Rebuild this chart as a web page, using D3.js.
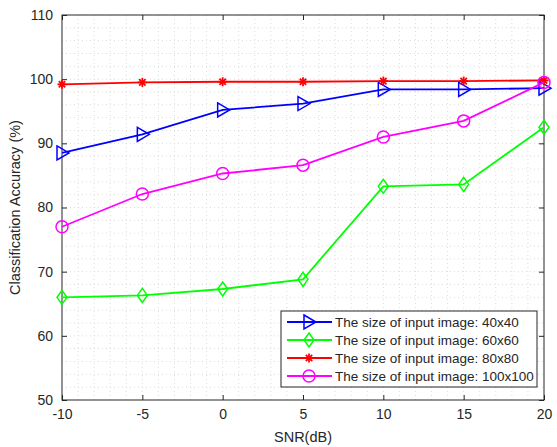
<!DOCTYPE html>
<html>
<head>
<meta charset="utf-8">
<script src="https://cdn.jsdelivr.net/npm/d3@7"></script>
<style>
  body { margin: 0; background: #fff; }
  text { font-family: "Liberation Sans", Arial, sans-serif; fill: #262626; }
</style>
</head>
<body>
<div id="chart"></div>
<script>
var W = 557, H = 447;
var margin = {top: 15, right: 13, bottom: 47, left: 62};

var snr = [-10, -5, 0, 5, 10, 15, 20];
var acc40 = [88.5, 91.4, 95.2, 96.2, 98.4, 98.4, 98.6];
var acc60 = [66.0, 66.3, 67.3, 68.8, 83.3, 83.6, 92.5];
var acc80 = [99.2, 99.5, 99.6, 99.6, 99.7, 99.7, 99.8];
var acc100 = [77.0, 82.1, 85.3, 86.6, 91.0, 93.5, 99.5];
var xTicks = [-10, -5, 0, 5, 10, 15, 20];
var yTicks = [50, 60, 70, 80, 90, 100, 110];

var series = [
  {name: 'The size of input image: 40x40', values: acc40, color: '#0000ff', marker: 'tri'},
  {name: 'The size of input image: 60x60', values: acc60, color: '#00ff00', marker: 'diamond'},
  {name: 'The size of input image: 80x80', values: acc80, color: '#ff0000', marker: 'star'},
  {name: 'The size of input image: 100x100', values: acc100, color: '#ff00ff', marker: 'circle'}
];

var svg = d3.select('#chart').append('svg')
  .attr('width', W)
  .attr('height', H);

var pw = W - margin.left - margin.right;
var ph = H - margin.top - margin.bottom;

var x = d3.scaleLinear().domain([-10, 20]).range([0, pw]);
var y = d3.scaleLinear().domain([50, 110]).range([ph, 0]);

var g = svg.append('g').attr('transform', 'translate(' + margin.left + ',' + margin.top + ')');

// minor + major dotted grid
var xGrid = d3.range(-9, 20, 1);
var yGrid = d3.range(52, 110, 2);
g.selectAll('.gx').data(xGrid).enter().append('line')
  .attr('x1', function(d) { return x(d); })
  .attr('x2', function(d) { return x(d); })
  .attr('y1', 0).attr('y2', ph)
  .attr('stroke', '#dcdcdc')
  .attr('stroke-width', 1)
  .attr('stroke-dasharray', '1,3');
g.selectAll('.gy').data(yGrid).enter().append('line')
  .attr('y1', function(d) { return y(d); })
  .attr('y2', function(d) { return y(d); })
  .attr('x1', 0).attr('x2', pw)
  .attr('stroke', '#dcdcdc')
  .attr('stroke-width', 1)
  .attr('stroke-dasharray', '1,3');

// axes (ticks inward)
var fmt = function(d) { return String(d); };
var xAxis = d3.axisBottom(x).tickValues(xTicks).tickSize(-5).tickPadding(9).tickFormat(fmt);
var yAxis = d3.axisLeft(y).tickValues(yTicks).tickSize(-5).tickPadding(9).tickFormat(fmt);
var gx = g.append('g').attr('transform', 'translate(0,' + ph + ')').call(xAxis);
var gy = g.append('g').call(yAxis);
[gx, gy].forEach(function(a) {
  a.select('.domain').remove();
  a.selectAll('.tick line').attr('stroke', '#262626');
  a.selectAll('.tick text').style('font-size', '14px').attr('fill', '#262626');
});
g.append('g').call(d3.axisTop(x).tickValues(xTicks).tickSize(-5).tickFormat(''))
  .call(function(a) { a.select('.domain').remove(); a.selectAll('line').attr('stroke', '#262626'); });
g.append('g').attr('transform', 'translate(' + pw + ',0)')
  .call(d3.axisRight(y).tickValues(yTicks).tickSize(-5).tickFormat(''))
  .call(function(a) { a.select('.domain').remove(); a.selectAll('line').attr('stroke', '#262626'); });

g.append('rect')
  .attr('x', 0).attr('y', 0).attr('width', pw).attr('height', ph)
  .attr('fill', 'none').attr('stroke', '#262626').attr('stroke-width', 1);

// labels
svg.append('text')
  .attr('x', margin.left + pw / 2).attr('y', H - 5)
  .attr('text-anchor', 'middle')
  .style('font-size', '14.5px')
  .text('SNR(dB)');
svg.append('text')
  .attr('transform', 'translate(20,' + (margin.top + ph / 2) + ') rotate(-90)')
  .attr('text-anchor', 'middle')
  .style('font-size', '14.5px')
  .text('Classification Accuracy (%)');

function drawMarker(sel, type, color, cx, cy) {
  if (type == 'tri') {
    sel.append('path')
      .attr('d', 'M' + (cx - 5) + ',' + (cy - 7) + 'L' + (cx + 7) + ',' + cy + 'L' + (cx - 5) + ',' + (cy + 7) + 'Z')
      .attr('fill', 'none').attr('stroke', color).attr('stroke-width', 1.5);
  } else if (type == 'diamond') {
    sel.append('path')
      .attr('d', 'M' + cx + ',' + (cy - 7) + 'L' + (cx + 5) + ',' + cy + 'L' + cx + ',' + (cy + 7) + 'L' + (cx - 5) + ',' + cy + 'Z')
      .attr('fill', 'none').attr('stroke', color).attr('stroke-width', 1.5);
  } else if (type == 'circle') {
    sel.append('circle')
      .attr('cx', cx).attr('cy', cy).attr('r', 6)
      .attr('fill', 'none').attr('stroke', color).attr('stroke-width', 1.5);
  } else {
    var r = 4.5;
    for (var k = 0; k < 4; k++) {
      var a = k * Math.PI / 4;
      sel.append('line')
        .attr('x1', cx - r * Math.cos(a)).attr('y1', cy - r * Math.sin(a))
        .attr('x2', cx + r * Math.cos(a)).attr('y2', cy + r * Math.sin(a))
        .attr('stroke', color).attr('stroke-width', 1.8);
    }
  }
}

var line = d3.line()
  .x(function(d, i) { return x(snr[i]); })
  .y(function(d) { return y(d); });

series.forEach(function(s) {
  g.append('path')
    .datum(s.values)
    .attr('d', line)
    .attr('fill', 'none')
    .attr('stroke', s.color)
    .attr('stroke-width', 1.8);
  var mg = g.append('g');
  s.values.forEach(function(v, i) {
    drawMarker(mg, s.marker, s.color, x(snr[i]), y(v));
  });
});

// legend
var lg = svg.append('g').attr('transform', 'translate(281,311)');
lg.append('rect')
  .attr('width', 256).attr('height', 76)
  .attr('fill', '#fff').attr('stroke', '#262626').attr('stroke-width', 1);
series.forEach(function(s, i) {
  var yy = 11 + i * 18;
  lg.append('line')
    .attr('x1', 6).attr('x2', 51).attr('y1', yy).attr('y2', yy)
    .attr('stroke', s.color).attr('stroke-width', 1.8);
  drawMarker(lg, s.marker, s.color, 28, yy);
  lg.append('text')
    .attr('x', 54).attr('y', yy + 5)
    .style('font-size', '13.5px')
    .text(s.name);
});
</script>
</body>
</html>
